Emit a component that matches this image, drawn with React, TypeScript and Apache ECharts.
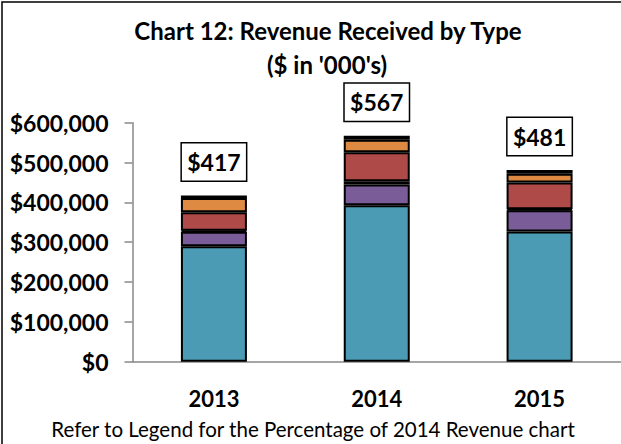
import React, { useEffect, useRef } from "react";
import * as echarts from "echarts";

const years = ["2013", "2014", "2015"];
const seriesNames = ["Type A", "Type B", "Type C", "Type D", "Type E", "Type F"];
const typeA = [290000, 393000, 327000];
const typeB = [36000, 52000, 53000];
const typeC = [3000, 8000, 3000];
const typeD = [46000, 73000, 67000];
const typeE = [36000, 31000, 22000];
const typeF = [6000, 10000, 9000];
const colors = ["#4A9BB3", "#7A5C99", "#8DB04F", "#AE4A47", "#DF8A43", "#95A9D3"];
const titleLines = ["Chart 12: Revenue Received by Type", "($ in '000's)"];
const footnote = "Refer to Legend for the Percentage of 2014 Revenue chart";

const FONT = "Lato, 'Liberation Sans', sans-serif";

export default function App() {
  const ref = useRef<HTMLDivElement>(null);
  useEffect(() => {
    if (!ref.current) return;
    const chart = echarts.init(ref.current, null, { renderer: "svg" });
    const all = [typeA, typeB, typeC, typeD, typeE, typeF];
    const totals = years.map((_, i) => all.reduce((s, arr) => s + arr[i], 0));
    const series = all.map((arr, k) => ({
      name: seriesNames[k],
      type: "bar",
      stack: "total",
      data: arr,
      barWidth: 66,
      itemStyle: { color: colors[k], borderColor: "#000", borderWidth: 2 },
      label:
        k === all.length - 1
          ? {
              show: true,
              position: "top",
              distance: 15,
              formatter: (p: any) => "$" + Math.round(totals[p.dataIndex] / 1000),
              fontFamily: FONT,
              fontWeight: "bold",
              fontSize: 23,
              lineHeight: 27,
              color: "#000",
              backgroundColor: "#fff",
              borderColor: "#000",
              borderWidth: 1.5,
              padding: [5, 8],
              width: 48,
              align: "center",
            }
          : { show: false },
    }));
    chart.setOption({
      animation: false,
      backgroundColor: "#fff",
      grid: { left: 132.5, right: 0, top: 122.7, bottom: 82.3 },
      xAxis: {
        type: "category",
        data: years,
        axisLine: { lineStyle: { color: "#888", width: 1.5 } },
        axisTick: { show: false },
        axisLabel: {
          margin: 26,
          fontFamily: FONT,
          fontWeight: "bold",
          fontSize: 22,
          color: "#000",
        },
      },
      yAxis: {
        type: "value",
        min: 0,
        max: 600000,
        interval: 100000,
        splitLine: { show: false },
        axisLine: { show: true, lineStyle: { color: "#888", width: 1.5 } },
        axisTick: { show: true, length: 8, lineStyle: { color: "#888", width: 1.5 } },
        axisLabel: {
          margin: 24,
          fontFamily: FONT,
          fontWeight: "bold",
          fontSize: 23,
          color: "#000",
          formatter: (v: number) => "$" + v.toLocaleString("en-US"),
        },
      },
      series,
      graphic: [
        {
          type: "text",
          x: 328,
          y: 30,
          style: {
            text: titleLines[0],
            fontFamily: FONT,
            fontWeight: "bold",
            fontSize: 24,
            fill: "#000",
            align: "center",
            verticalAlign: "middle",
          },
        },
        {
          type: "text",
          x: 327,
          y: 64,
          style: {
            text: titleLines[1],
            fontFamily: FONT,
            fontWeight: "bold",
            fontSize: 24,
            fill: "#000",
            align: "center",
            verticalAlign: "middle",
          },
        },
        {
          type: "text",
          x: 313,
          y: 429,
          style: {
            text: footnote,
            fontFamily: FONT,
            fontSize: 20.5,
            fill: "#000",
            align: "center",
            verticalAlign: "middle",
          },
        },
        {
          type: "polyline",
          shape: { points: [[2, 444], [2, 2], [621, 2]] },
          style: { stroke: "#000", lineWidth: 1.5, fill: "none" },
        },
      ],
    });
    return () => chart.dispose();
  }, []);
  return (
    <div
      ref={ref}
      style={{ position: "fixed", left: 0, top: 0, width: 621, height: 444 }}
    />
  );
}
